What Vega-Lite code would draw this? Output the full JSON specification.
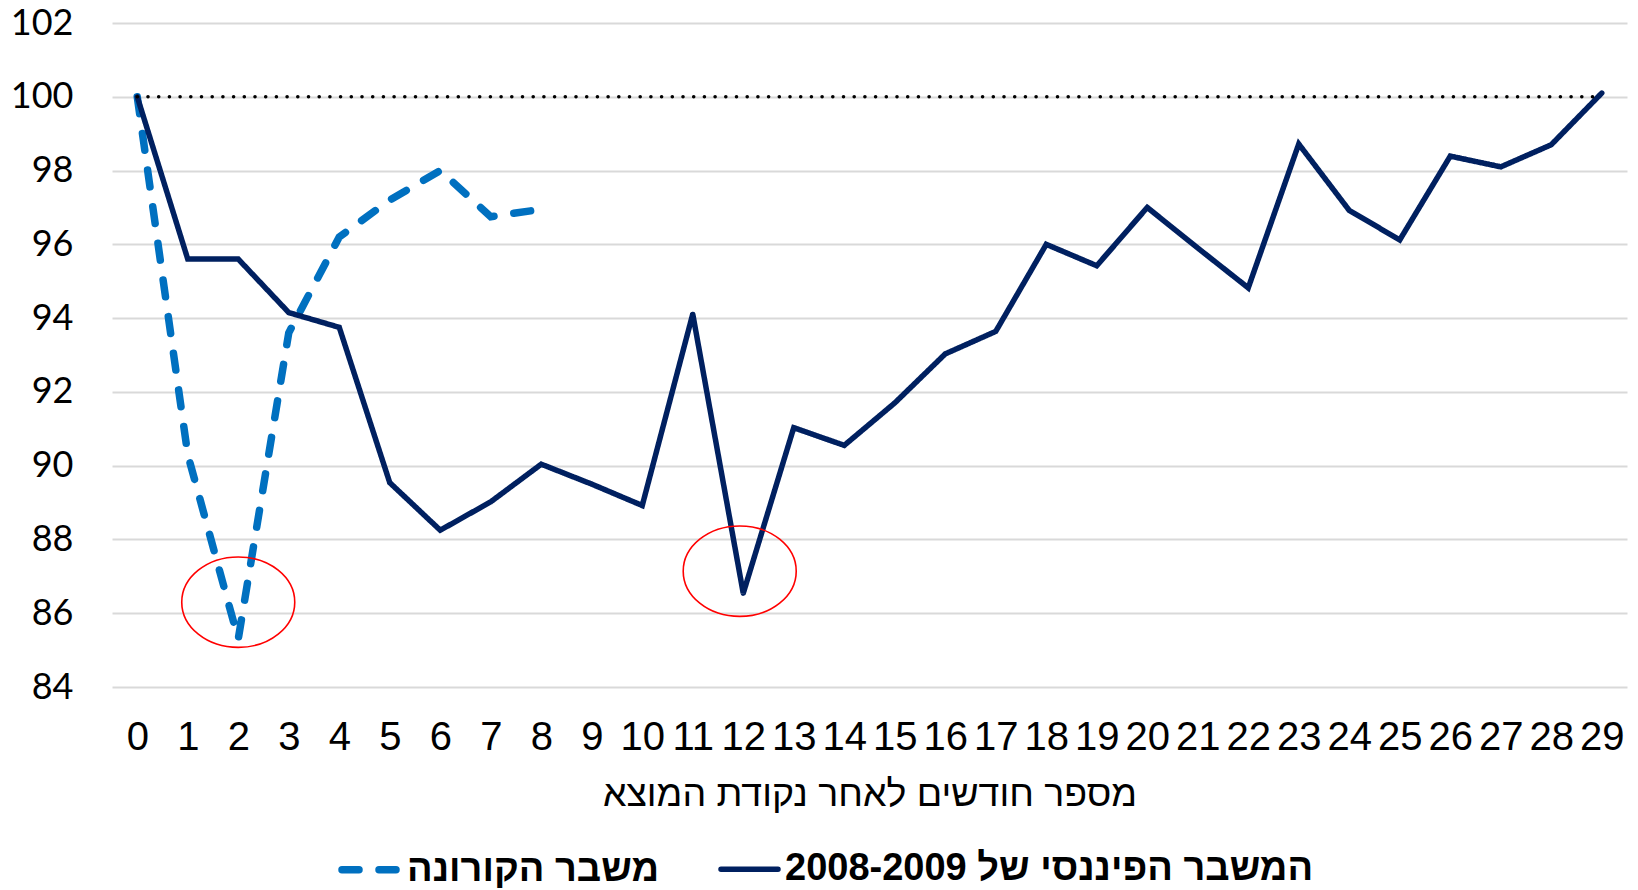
{
  "$schema": "https://vega.github.io/schema/vega-lite/v6.json",
  "width": 1515,
  "height": 664,
  "autosize": {"type": "none"},
  "padding": {"left": 112, "top": 23, "right": 11, "bottom": 203},
  "background": "white",
  "config": {"view": {"stroke": null}},
  "layer": [
    {
      "data": {
        "values": [
          {"month": 0, "value": 100, "series": "משבר הקורונה"},
          {"month": 1, "value": 90.3, "series": "משבר הקורונה"},
          {"month": 2, "value": 85.3, "series": "משבר הקורונה"},
          {"month": 3, "value": 93.6, "series": "משבר הקורונה"},
          {"month": 4, "value": 96.2, "series": "משבר הקורונה"},
          {"month": 5, "value": 97.2, "series": "משבר הקורונה"},
          {"month": 6, "value": 98.0, "series": "משבר הקורונה"},
          {"month": 7, "value": 96.75, "series": "משבר הקורונה"},
          {"month": 8, "value": 96.95, "series": "משבר הקורונה"},
          {"month": 0, "value": 100, "series": "המשבר הפיננסי של 2008-2009"},
          {"month": 1, "value": 95.6, "series": "המשבר הפיננסי של 2008-2009"},
          {"month": 2, "value": 95.6, "series": "המשבר הפיננסי של 2008-2009"},
          {"month": 3, "value": 94.15, "series": "המשבר הפיננסי של 2008-2009"},
          {"month": 4, "value": 93.75, "series": "המשבר הפיננסי של 2008-2009"},
          {"month": 5, "value": 89.54, "series": "המשבר הפיננסי של 2008-2009"},
          {"month": 6, "value": 88.25, "series": "המשבר הפיננסי של 2008-2009"},
          {"month": 7, "value": 89.02, "series": "המשבר הפיננסי של 2008-2009"},
          {"month": 8, "value": 90.04, "series": "המשבר הפיננסי של 2008-2009"},
          {"month": 9, "value": 89.5, "series": "המשבר הפיננסי של 2008-2009"},
          {"month": 10, "value": 88.92, "series": "המשבר הפיננסי של 2008-2009"},
          {"month": 11, "value": 94.11, "series": "המשבר הפיננסי של 2008-2009"},
          {"month": 12, "value": 86.54, "series": "המשבר הפיננסי של 2008-2009"},
          {"month": 13, "value": 91.03, "series": "המשבר הפיננסי של 2008-2009"},
          {"month": 14, "value": 90.55, "series": "המשבר הפיננסי של 2008-2009"},
          {"month": 15, "value": 91.7, "series": "המשבר הפיננסי של 2008-2009"},
          {"month": 16, "value": 93.03, "series": "המשבר הפיננסי של 2008-2009"},
          {"month": 17, "value": 93.64, "series": "המשבר הפיננסי של 2008-2009"},
          {"month": 18, "value": 96.0, "series": "המשבר הפיננסי של 2008-2009"},
          {"month": 19, "value": 95.42, "series": "המשבר הפיננסי של 2008-2009"},
          {"month": 20, "value": 97.0, "series": "המשבר הפיננסי של 2008-2009"},
          {"month": 21, "value": 95.9, "series": "המשבר הפיננסי של 2008-2009"},
          {"month": 22, "value": 94.82, "series": "המשבר הפיננסי של 2008-2009"},
          {"month": 23, "value": 98.72, "series": "המשבר הפיננסי של 2008-2009"},
          {"month": 24, "value": 96.92, "series": "המשבר הפיננסי של 2008-2009"},
          {"month": 25, "value": 96.12, "series": "המשבר הפיננסי של 2008-2009"},
          {"month": 26, "value": 98.39, "series": "המשבר הפיננסי של 2008-2009"},
          {"month": 27, "value": 98.1, "series": "המשבר הפיננסי של 2008-2009"},
          {"month": 28, "value": 98.7, "series": "המשבר הפיננסי של 2008-2009"},
          {"month": 29, "value": 100.1, "series": "המשבר הפיננסי של 2008-2009"}
        ]
      },
      "mark": {"type": "line", "strokeCap": "round", "strokeJoin": "miter"},
      "encoding": {
        "x": {
          "field": "month",
          "type": "quantitative",
          "scale": {"domain": [-0.5, 29.5], "nice": false, "zero": false},
          "axis": {
            "values": [0,1,2,3,4,5,6,7,8,9,10,11,12,13,14,15,16,17,18,19,20,21,22,23,24,25,26,27,28,29],
            "grid": false,
            "ticks": false,
            "domain": false,
            "labelFont": "Liberation Sans",
            "labelFontSize": 40,
            "labelColor": "#000000",
            "labelPadding": 30,
            "labelFlush": false,
            "labelOverlap": false,
            "title": "מספר חודשים לאחר נקודת המוצא",
            "titleFont": "Liberation Sans",
            "titleFontSize": 37.5,
            "titleFontWeight": "normal",
            "titleColor": "#000000",
            "titlePadding": 18
          }
        },
        "y": {
          "field": "value",
          "type": "quantitative",
          "scale": {"domain": [84, 102], "nice": false, "zero": false},
          "axis": {
            "values": [84,86,88,90,92,94,96,98,100,102],
            "grid": true,
            "gridColor": "#D9D9D9",
            "gridWidth": 2,
            "ticks": false,
            "domain": false,
            "labelFont": "Lato",
            "labelFontSize": 36,
            "labelColor": "#000000",
            "labelPadding": 39,
            "title": null
          }
        },
        "color": {
          "field": "series",
          "type": "nominal",
          "scale": {"domain": ["משבר הקורונה", "המשבר הפיננסי של 2008-2009"], "range": ["#0070C0", "#002060"]},
          "legend": {
            "orient": "none",
            "legendX": 226,
            "legendY": 814,
            "direction": "horizontal",
            "title": null,
            "symbolType": "stroke",
            "symbolSize": 3249,
            "labelFont": "Liberation Sans",
            "labelFontSize": 38,
            "labelFontWeight": "bold",
            "labelColor": "#000000",
            "labelLimit": 2000,
            "labelOffset": 4,
            "columnPadding": 50,
            "encode": {
              "symbols": {
                "update": {
                  "strokeCap": {"value": "round"},
                  "strokeDash": {"signal": "datum.value === 'משבר הקורונה' ? [18.5, 20] : [1, 0]"},
                  "strokeWidth": {"signal": "datum.value === 'משבר הקורונה' ? 9 : 6"}
                }
              }
            }
          }
        },
        "strokeDash": {
          "field": "series",
          "type": "nominal",
          "scale": {"domain": ["משבר הקורונה", "המשבר הפיננסי של 2008-2009"], "range": [[17, 20], [1, 0]]}
        },
        "strokeWidth": {
          "field": "series",
          "type": "nominal",
          "scale": {"type": "ordinal", "domain": ["משבר הקורונה", "המשבר הפיננסי של 2008-2009"], "range": [7.5, 5.5]}
        }
      }
    },
    {
      "data": {"values": [{"month": 0, "month2": 29, "value": 100}]},
      "mark": {"type": "rule", "color": "#000000", "strokeWidth": 3.5, "strokeDash": [0.1, 10.6], "strokeCap": "round"},
      "encoding": {
        "x": {"field": "month", "type": "quantitative"},
        "x2": {"field": "month2"},
        "y": {"field": "value", "type": "quantitative"}
      }
    },
    {
      "data": {"values": [{"month": 2, "value": 86.3}, {"month": 11.93, "value": 87.14}]},
      "mark": {
        "type": "point",
        "shape": "M-1,0A1,0.8 0 1,0 1,0A1,0.8 0 1,0 -1,0Z",
        "size": 12769,
        "filled": false,
        "stroke": "#FF0000",
        "strokeWidth": 1.6,
        "opacity": 1
      },
      "encoding": {
        "x": {"field": "month", "type": "quantitative"},
        "y": {"field": "value", "type": "quantitative"}
      }
    }
  ]
}
